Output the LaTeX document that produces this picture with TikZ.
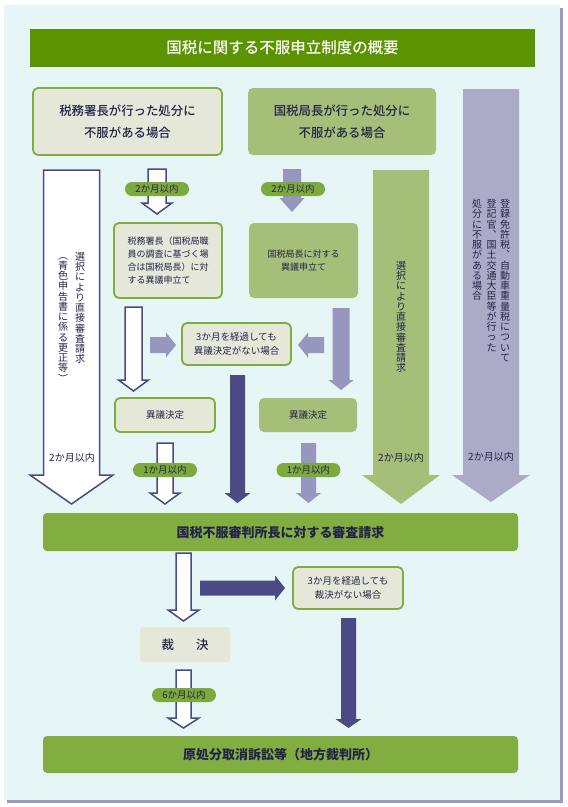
\documentclass[tikz,border=0pt]{standalone}
\usepackage{fontspec}
\setmainfont{Noto Sans CJK JP}
\newfontfamily\jpmed{Noto Sans CJK JP}[UprightFont={* Medium}]
\usetikzlibrary{calc}

\definecolor{panelbg}{HTML}{E6F5F6}
\definecolor{shadowgray}{HTML}{9A9AC0}
\definecolor{titlegreen}{HTML}{5B9400}
\definecolor{beige}{HTML}{E5E8D8}
\definecolor{linegreen}{HTML}{7FAE3E}
\definecolor{midgreen}{HTML}{A5BE78}
\definecolor{bargreen}{HTML}{82AE41}
\definecolor{pillgreen}{HTML}{7DAA3C}
\definecolor{lavender}{HTML}{ABABC8}
\definecolor{purplearr}{HTML}{9696BE}
\definecolor{navy}{HTML}{4A4A84}
\definecolor{inkblue}{HTML}{23234A}

% block arrows: start, tip, shaft half width, head half width, head length, style
\newcommand{\blockdown}[6]{%
  \path[#6] let \p1=(#1), \p2=(#2) in
    ({\x1-#3pt},\y1) -- ({\x1+#3pt},\y1) -- ({\x1+#3pt},{\y2+#5pt}) -- ({\x1+#4pt},{\y2+#5pt})
    -- (\x1,\y2) -- ({\x1-#4pt},{\y2+#5pt}) -- ({\x1-#3pt},{\y2+#5pt}) -- cycle;}
\newcommand{\blockside}[6]{%
  \path[#6] let \p1=(#1), \p2=(#2) in
    (\x1,{\y1+#3pt}) -- ({\x2-(#5pt)},{\y1+#3pt}) -- ({\x2-(#5pt)},{\y1+#4pt}) -- (\x2,\y1)
    -- ({\x2-(#5pt)},{\y1-#4pt}) -- ({\x2-(#5pt)},{\y1-#3pt}) -- (\x1,{\y1-#3pt}) -- cycle;}

\tikzset{
  box/.style={rounded corners=5pt,inner sep=0pt,text=inkblue,align=center},
  beigebox/.style={box,fill=beige,draw=linegreen,line width=1.8pt},
  greenbox/.style={box,fill=midgreen},
  bigbar/.style={box,rounded corners=4pt,fill=bargreen,minimum width=475pt,
    font=\fontsize{13}{16}\selectfont\bfseries},
  pill/.style={rounded corners=7pt,fill=pillgreen,text=inkblue,inner sep=0pt,
    minimum width=64pt,minimum height=14pt,font=\fontsize{9.5}{11}\selectfont},
  vtext/.style={anchor=north,align=center,inner sep=0pt,text=inkblue,
    font=\fontsize{10}{10.25}\selectfont},
  ltext/.style={inner sep=0pt,text=inkblue,font=\fontsize{10}{12}\selectfont},
  whitearr/.style={fill=white,draw=navy,line width=1.5pt,line join=miter},
  purplearr/.style={fill=purplearr},
  navyarr/.style={fill=navy},
}

\begin{document}
\begin{tikzpicture}[x=1pt,y=-1pt]
\useasboundingbox (0,0) rectangle (568,807);
% panel
\fill[shadowgray] (7,8) rectangle (562.5,802.5);
\fill[panelbg] (4,5) rectangle (560,800);

% title
\node[fill=titlegreen,text=white,minimum width=505pt,minimum height=38pt,inner sep=0pt,
  font=\jpmed\fontsize{15.5}{18}\selectfont] (title) at (282.5,48) {国税に関する不服申立制度の概要};

% top boxes
\node[beigebox,minimum width=189pt,minimum height=67pt,font=\jpmed\fontsize{12.4}{22}\selectfont]
  (boxA) at (127.5,121.5) {税務署長が行った処分に\\不服がある場合};
\node[greenbox,minimum width=188pt,minimum height=67pt,font=\jpmed\fontsize{12.4}{22}\selectfont]
  (boxB) at (342,121.5) {国税局長が行った処分に\\不服がある場合};

% long arrows
\blockdown{71.5,170}{71.5,504}{28}{41.5}{29}{whitearr}
\blockdown{401,170}{401,504}{28}{39}{29}{fill=midgreen}
\blockdown{491,89}{491,502}{28}{39}{27}{fill=lavender}

\node[vtext] (leftA) at (80,252) {選\\択\\に\\よ\\り\\直\\接\\審\\査\\請\\求};
\node[vtext] (leftB) at (63,257) {︵\\青\\色\\申\\告\\書\\に\\係\\る\\更\\正\\等\\︶};
\node[ltext] (leftT) at (72,458) {2か月以内};
\node[vtext] (midA) at (401,261) {選\\択\\に\\よ\\り\\直\\接\\審\\査\\請\\求};
\node[ltext] (midT) at (401,458) {2か月以内};
\node[vtext] (rightA) at (505,199) {登\\録\\免\\許\\税\\︑\\自\\動\\車\\重\\量\\税\\に\\つ\\い\\て};
\node[vtext] (rightB) at (491.5,199) {登\\記\\官\\︑\\国\\土\\交\\通\\大\\臣\\等\\が\\行\\っ\\た};
\node[vtext] (rightC) at (477,199) {処\\分\\に\\不\\服\\が\\あ\\る\\場\\合};
\node[ltext] (rightT) at (491,457) {2か月以内};

% first step
\blockdown{157,169}{157,214}{9}{15}{11}{whitearr}
\blockdown{292,169}{292,212}{9}{12.5}{14}{purplearr}
\node[pill] (pillA) at (157,189) {2か月以内};
\node[pill] (pillB) at (293,189) {2か月以内};

\node[beigebox,minimum width=108pt,minimum height=75pt,align=left,
  font=\fontsize{9}{13.3}\selectfont] (boxC) at (168,260.5)
  {税務署長（国税局職\\員の調査に基づく場\\合は国税局長）に対\\する異議申立て};
\node[greenbox,minimum width=109pt,minimum height=75pt,font=\fontsize{9}{13.3}\selectfont]
  (boxD) at (303.5,260.5) {国税局長に対する\\異議申立て};

% three months
\node[beigebox,minimum width=109pt,minimum height=42pt,font=\fontsize{9.5}{14}\selectfont]
  (boxE) at (236.5,344) {3か月を経過しても\\異議決定がない場合};
\blockside{150,345}{176,345}{8}{12.5}{10}{purplearr}
\blockside{324,345}{298,345}{8}{12.5}{-10}{purplearr}

\blockdown{133.5,307}{133.5,391}{8.5}{15}{11}{whitearr}
\blockdown{341,308}{341,390}{8.5}{12.5}{10}{purplearr}
\blockdown{237.5,375}{237.5,503}{7.5}{13}{10}{navyarr}

\node[beigebox,minimum width=100pt,minimum height=34pt,font=\fontsize{9.5}{12}\selectfont]
  (boxF) at (165,415) {異議決定};
\node[greenbox,minimum width=98pt,minimum height=34pt,font=\fontsize{9.5}{12}\selectfont]
  (boxG) at (308,415) {異議決定};

\blockdown{165,443}{165,504}{8}{15}{11}{whitearr}
\blockdown{308.5,443}{308.5,503}{7.5}{12.5}{10}{purplearr}
\node[pill] (pillC) at (165,470) {1か月以内};
\node[pill] (pillD) at (308.5,470) {1か月以内};

% tribunal
\node[bigbar,minimum height=38pt] (tribunal) at (280.5,532) {国税不服審判所長に対する審査請求};

\blockdown{183.5,553}{183.5,621}{7.5}{15.5}{11}{whitearr}
\blockside{200,588}{285,588}{7.5}{12.5}{10}{navyarr}
\node[beigebox,minimum width=110pt,minimum height=42pt,font=\fontsize{9.5}{14}\selectfont]
  (boxH) at (348,588) {3か月を経過しても\\裁決がない場合};
\node[box,fill=beige,rounded corners=3pt,minimum width=90pt,minimum height=35pt,
  font=\jpmed\fontsize{12.5}{14}\selectfont] (boxI) at (185,644.5) {裁\hspace{22pt}決};

\blockdown{348.5,618}{348.5,728}{7.5}{13}{9}{navyarr}
\blockdown{183.5,670}{183.5,728}{7.5}{15.5}{10}{whitearr}
\node[pill] (pillE) at (184,695) {6か月以内};

\node[bigbar,minimum height=37pt] (court) at (280.5,754.5) {原処分取消訴訟等（地方裁判所）};
\end{tikzpicture}
\end{document}
